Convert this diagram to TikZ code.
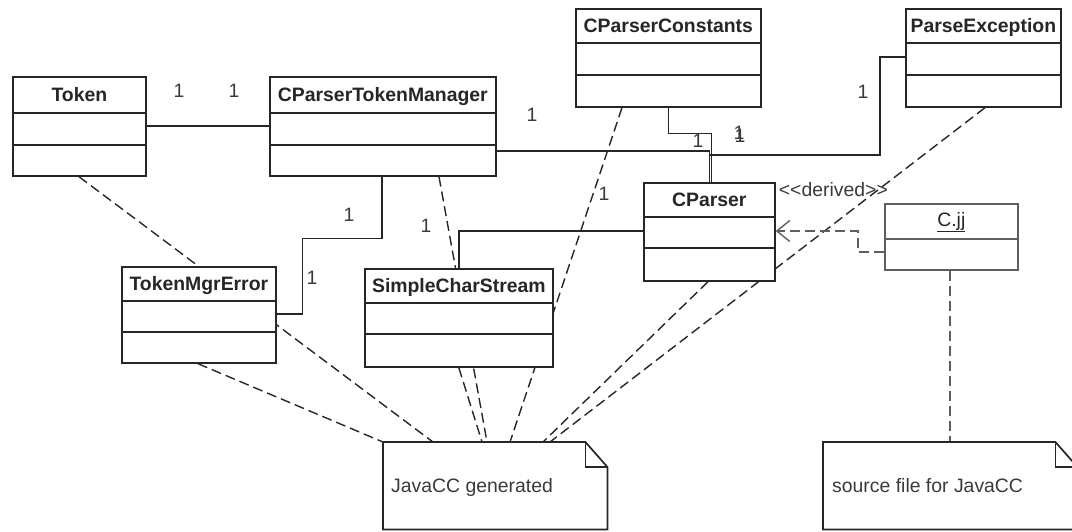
\documentclass[tikz,border=0pt]{standalone}
\usepackage{fontspec}
\setmainfont{Liberation Sans}
\usetikzlibrary{calc,arrows.meta}
\pgfdeclarelayer{background}
\pgfsetlayers{background,main}
\definecolor{ink}{HTML}{262626}
\definecolor{softink}{HTML}{3A3A3A}
\definecolor{lightink}{HTML}{5E5E5E}
\newcommand\diafont{\fontsize{19.4}{23}\selectfont}
\tikzset{
  boxline/.style={draw=ink, line width=1.7pt},
  umlbox/.style={boxline, fill=white, inner sep=0pt, anchor=north west},
  classname/.style={font=\diafont\bfseries, text=ink, anchor=base, inner sep=0pt},
  mult/.style={font=\diafont, text=softink, inner sep=0pt},
  notebox/.style={inner sep=0pt, anchor=north west},
  noteline/.style={draw=ink, line width=1.7pt, line join=miter},
  notetext/.style={font=\diafont, text=softink, anchor=base west, inner sep=0pt},
  assoc/.style={draw=ink, line width=1.5pt},
  trace/.style={draw=ink, line width=1.4pt, dash pattern=on 10pt off 5pt}
}
% name, x, y, width, height, first divider, second divider, title
\newcommand\umlclass[8]{%
  \node[umlbox, minimum width=#4pt, minimum height=#5pt] (#1) at (#2,#3) {};
  \draw[boxline] ($(#1.north west)+(0,#6)$) -- ($(#1.north east)+(0,#6)$);
  \draw[boxline] ($(#1.north west)+(0,#7)$) -- ($(#1.north east)+(0,#7)$);
  \node[classname] (#1-name) at ($(#1.north)+(0,#6/2+7)$) {#8};
}
\begin{document}
\begin{tikzpicture}[x=1pt,y=-1pt]
\useasboundingbox (0,0) rectangle (1072,531);
\clip (0,0) rectangle (1072,531);

% classes
\umlclass{token}{12}{76}{133}{99}{37}{69}{Token}
\umlclass{cptm}{269}{76}{226}{99}{37}{69}{CParserTokenManager}
\umlclass{cpc}{575}{8}{185}{98}{35}{67}{CParserConstants}
\umlclass{pe}{905}{8}{155}{98}{35}{67}{ParseException}
\umlclass{cparser}{643}{182}{131}{98}{35}{66}{CParser}
\umlclass{tme}{121}{266}{154}{96}{35}{66}{TokenMgrError}
\umlclass{scs}{364}{268}{188}{98}{35}{66}{SimpleCharStream}

% the grammar file object
\node[umlbox, draw=lightink, minimum width=133pt, minimum height=66pt] (cjj) at (884,203) {};
\draw[boxline, draw=lightink] ($(cjj.north west)+(0,36)$) -- ($(cjj.north east)+(0,36)$);
\node[font=\diafont, text=ink, anchor=base, inner sep=0pt] (cjj-name) at ($(cjj.north)+(0,23)$) {\underline{C.jj}};

% notes
\node[notebox, minimum width=224pt, minimum height=87pt] (gen) at (383,442) {};
\draw[noteline] (gen.north west) -- ($(gen.north east)+(-22,0)$) -- ($(gen.north east)+(0,25)$)
  -- (gen.south east) -- (gen.south west) -- cycle;
\draw[noteline] ($(gen.north east)+(-22,0)$) -- ($(gen.north east)+(-22,25)$) -- ($(gen.north east)+(0,25)$);
\node[notetext] (gen-text) at ($(gen.north west)+(8,50)$) {JavaCC generated};

\node[notebox, minimum width=254pt, minimum height=87pt] (src) at (823,442) {};
\draw[noteline] (src.north west) -- ($(src.north east)+(-22,0)$) -- ($(src.north east)+(0,25)$)
  -- (src.south east) -- (src.south west) -- cycle;
\draw[noteline] ($(src.north east)+(-22,0)$) -- ($(src.north east)+(-22,25)$) -- ($(src.north east)+(0,25)$);
\node[notetext] (src-text) at ($(src.north west)+(9,50)$) {source file for JavaCC};

\begin{pgfonlayer}{background}
  % associations
  \draw[assoc] ($(token.north east)+(0,50)$) -- ($(cptm.north west)+(0,50)$);
  \draw[assoc] ($(cptm.north east)+(0,75)$) -| (cparser.north);
  \draw[assoc] (cpc.south) -- ++(0,26) -| ($(cparser.north)+(2,0)$);
  \draw[assoc] ($(pe.north west)+(0,49)$) -- ++(-25,0) |- ($(cparser.north)+(0,-27)$) -- (cparser.north);
  \draw[assoc] ($(cptm.south west)+(113,0)$) -- ++(0,62) -| ($(tme.north east)+(26,48)$) -- ($(tme.north east)+(0,48)$);
  \draw[assoc] ($(cparser.north west)+(0,49)$) -| (scs.north);

  % generated-by links to the note
  \draw[trace] ($(token.south west)+(67,0)$) -- ($(gen.north west)+(50,0)$);
  \draw[trace] ($(tme.south west)+(77,0)$) -- (gen.north west);
  \draw[trace] ($(cptm.south west)+(170,0)$) -- ($(gen.north west)+(104,0)$);
  \draw[trace] (scs.south) -- ($(gen.north west)+(99,0)$);
  \draw[trace] ($(cpc.south west)+(47,0)$) -- ($(gen.north west)+(127,0)$);
  \draw[trace] ($(cparser.south west)+(65,0)$) -- ($(gen.north west)+(160,0)$);
  \draw[trace] ($(pe.south west)+(80,0)$) -- ($(gen.north west)+(167,0)$);

  % grammar file links
  \draw[trace, draw=lightink] ($(cjj.south west)+(66,0)$) -- ($(src.north west)+(127,0)$);
  \draw[trace, draw=lightink, -{Straight Barb[length=13pt,width=21pt]}]
    ($(cjj.north west)+(0,49)$) -- ++(-26,0) |- ($(cparser.north east)+(0,49)$);
\end{pgfonlayer}

% multiplicities
\node[mult] (m-token) at (179,91) {1};
\node[mult] (m-cptm) at (234,91) {1};
\node[mult] (m-cptm2) at (532,115) {1};
\node[mult] (m-cpc) at (698,141) {1};
\node[mult] (m-cp1) at (739,133) {1};
\node[mult] (m-cp2) at (740,136) {1};
\node[mult] (m-pe) at (863,92) {1};
\node[mult] (m-cpc2) at (604,194) {1};
\node[mult] (m-scs) at (426,226) {1};
\node[mult] (m-tme1) at (349,215) {1};
\node[mult] (m-tme2) at (312,278) {1};

\node[mult, anchor=base west] (derived) at ($(cparser.north east)+(3,14)$) {<\kern0pt<derived>\kern0pt>};
\end{tikzpicture}
\end{document}
